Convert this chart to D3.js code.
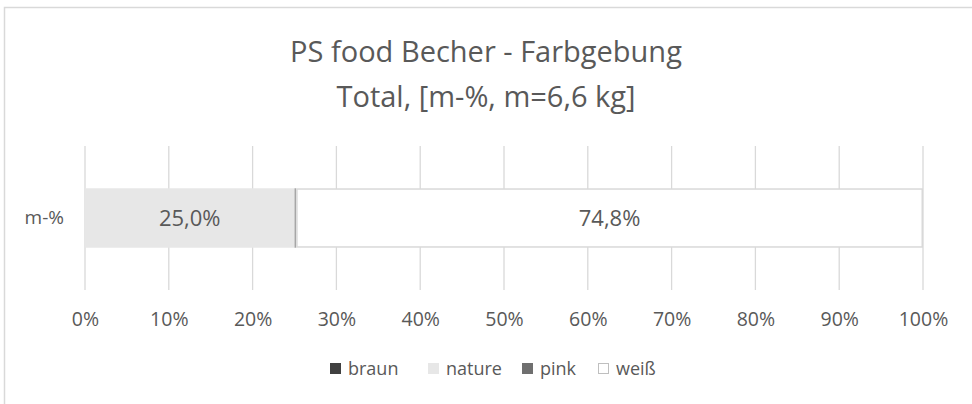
<!DOCTYPE html>
<html>
<head>
<meta charset="utf-8">
<script src="https://cdn.jsdelivr.net/npm/d3@7/dist/d3.min.js"></script>
<style>
  html, body { margin: 0; padding: 0; background: #fff; }
  svg { display: block; }
  text { font-family: "Open Sans", "Noto Sans", sans-serif; fill: #595959; }
</style>
</head>
<body>
<svg id="chart" width="972" height="404"></svg>
<script>
// Stacked 100% bar: colour shares of PS food cups
const categories = ["m-%"];
const seriesNames = ["braun", "nature", "pink", "weiß"];
const seriesValues = [0.0, 25.0, 0.2, 74.8];
const seriesColors = ["#404040", "#e7e7e7", "#6f6f6f", "#ffffff"];
const seriesStrokes = ["#404040", "#e7e7e7", "#a6a6a6", "#d9d9d9"];
const tickValues = [0, 10, 20, 30, 40, 50, 60, 70, 80, 90, 100];
const titleLines = ["PS food Becher - Farbgebung", "Total, [m-%, m=6,6 kg]"];

const svg = d3.select("#chart");

// outer chart-area frame
svg.append("rect")
  .attr("x", 4.5).attr("y", 7.5)
  .attr("width", 980).attr("height", 410)
  .attr("fill", "none").attr("stroke", "#d9d9d9").attr("stroke-width", 1.5);

// title
svg.append("g").selectAll("text")
  .data(titleLines).join("text")
  .attr("x", 486).attr("y", (d, i) => 62 + i * 45)
  .attr("text-anchor", "middle")
  .attr("font-size", 29)
  .text(d => d);

const x = d3.scaleLinear().domain([0, 100]).range([85, 923]);
const y = d3.scaleBand().domain(categories).range([146, 290]).padding(0.426);

// vertical gridlines
svg.append("g").selectAll("line")
  .data(tickValues).join("line")
  .attr("x1", d => x(d)).attr("x2", d => x(d))
  .attr("y1", 146).attr("y2", 290)
  .attr("stroke", "#d9d9d9").attr("stroke-width", 1.3);

// x axis labels
const xAxis = d3.axisBottom(x).tickValues(tickValues).tickSize(0).tickPadding(0)
  .tickFormat(d => d + "%");
const gx = svg.append("g").attr("transform", "translate(0,312)").call(xAxis);
gx.select(".domain").remove();
gx.selectAll("text").attr("font-size", 19.5).attr("fill", "#595959")
  .attr("font-family", "'Open Sans', 'Noto Sans', sans-serif");

// category label
const yAxis = d3.axisLeft(y).tickSize(0).tickPadding(21);
const gy = svg.append("g").attr("transform", "translate(85,0)").call(yAxis);
gy.select(".domain").remove();
gy.selectAll("text").attr("font-size", 19).attr("fill", "#595959")
  .attr("font-family", "'Open Sans', 'Noto Sans', sans-serif");

// stacked segments
const row = {};
seriesNames.forEach((s, i) => row[s] = seriesValues[i]);
const stacked = d3.stack().keys(seriesNames)([Object.assign({ cat: categories[0] }, row)]);

const segs = svg.append("g");
stacked.forEach((layer, i) => {
  layer.forEach(d => {
    const w = x(d[1]) - x(d[0]);
    if (w <= 0) return;
    segs.append("rect")
      .attr("x", x(d[0]) + 0.75).attr("y", y(d.data.cat))
      .attr("width", Math.max(0, w - 1.5)).attr("height", y.bandwidth())
      .attr("fill", seriesColors[i])
      .attr("stroke", seriesStrokes[i]).attr("stroke-width", 1.5);
  });
});

// value labels on the large segments
const fmt = v => d3.format(".1f")(v).replace(".", ",") + "%";
stacked.forEach((layer, i) => {
  layer.forEach(d => {
    const v = d[1] - d[0];
    if (v < 5) return;
    svg.append("text")
      .attr("x", (x(d[0]) + x(d[1])) / 2)
      .attr("y", y(d.data.cat) + y.bandwidth() / 2)
      .attr("dy", "0.35em")
      .attr("text-anchor", "middle")
      .attr("font-size", 22)
      .attr("fill", "#404040")
      .text(fmt(v));
  });
});

// legend
const legendX = [330, 428, 522, 598];
const lg = svg.append("g").selectAll("g")
  .data(seriesNames).join("g")
  .attr("transform", (d, i) => `translate(${legendX[i]},363)`);
lg.append("rect")
  .attr("x", 0.5).attr("y", 0.5).attr("width", 10).attr("height", 10)
  .attr("fill", (d, i) => seriesColors[i])
  .attr("stroke", (d, i) => i === 3 ? "#bfbfbf" : seriesColors[i]);
lg.append("text")
  .attr("x", 18).attr("y", 12)
  .attr("font-size", 18)
  .text(d => d);
</script>
</body>
</html>
